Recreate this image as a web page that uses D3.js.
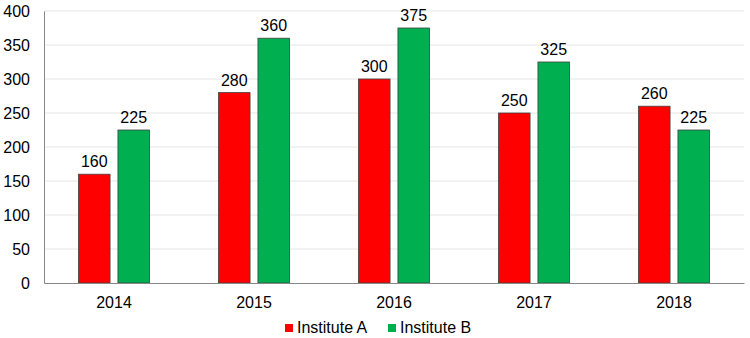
<!DOCTYPE html>
<html><head><meta charset="utf-8">
<script src="https://cdn.jsdelivr.net/npm/d3@7"></script>
<style>body{margin:0;background:#fff}svg{display:block;font-family:"Liberation Sans",Arial,sans-serif}</style>
</head><body><svg id="c" width="750" height="338"></svg>
<script>
const categories = ["2014","2015","2016","2017","2018"];
const seriesNames = ["Institute A","Institute B"];
const instituteA = [160,280,300,250,260];
const instituteB = [225,360,375,325,225];
const yTicks = [0,50,100,150,200,250,300,350,400];
const colors = ["#FF0000","#00B050"];

const svg = d3.select("#c");
const m = {l:44, r:6, t:11, b:55};
const W = 750, H = 338;
const FS = 16;
const x = d3.scaleBand().domain(categories).range([m.l, W - m.r]);
const y = d3.scaleLinear().domain([0,400]).range([H - m.b, m.t]);
const bw = x.bandwidth();
const x1 = d3.scaleBand().domain(seriesNames).range([bw/2 - 35.5, bw/2 + 35.5]).paddingInner(0.2);

svg.append("g").selectAll("line").data(yTicks.filter(d=>d>0)).join("line")
  .attr("x1", m.l).attr("x2", W - m.r).attr("y1", d=>y(d)).attr("y2", d=>y(d))
  .attr("stroke","#e6e6e6").attr("stroke-width",1);

const data = categories.map((c,i)=>({c, vals:[instituteA[i], instituteB[i]]}));
const g = svg.append("g").selectAll("g").data(data).join("g").attr("transform", d=>`translate(${x(d.c)},0)`);
g.selectAll("rect").data(d=>d.vals.map((v,j)=>({v,j}))).join("rect")
  .attr("x", d=>x1(seriesNames[d.j])).attr("width", x1.bandwidth())
  .attr("y", d=>y(d.v)).attr("height", d=>y(0)-y(d.v))
  .attr("fill", d=>colors[d.j]).attr("stroke","#404040").attr("stroke-width",0.8);
g.selectAll("text").data(d=>d.vals.map((v,j)=>({v,j}))).join("text")
  .attr("x", d=>x1(seriesNames[d.j]) + x1.bandwidth()/2).attr("y", d=>y(d.v)-7)
  .attr("text-anchor","middle").attr("font-size",FS).attr("fill","#000").text(d=>d.v);

// axes
const yAxis = svg.append("g").attr("transform",`translate(${m.l},0)`)
  .call(d3.axisLeft(y).tickValues(yTicks).tickSize(0).tickPadding(14));
yAxis.select(".domain").attr("stroke","#888");
yAxis.selectAll("text").attr("font-size",FS).attr("fill","#000").attr("font-family","Liberation Sans, Arial, sans-serif");
const xAxis = svg.append("g").attr("transform",`translate(0,${y(0)})`)
  .call(d3.axisBottom(x).tickSize(0).tickPadding(14));
xAxis.select(".domain").attr("stroke","#888");
xAxis.selectAll("text").attr("font-size",FS).attr("fill","#000").attr("font-family","Liberation Sans, Arial, sans-serif");

// legend
const legX = [285, 388];
const leg = svg.append("g").selectAll("g").data(seriesNames).join("g")
  .attr("transform",(d,i)=>`translate(${legX[i]},324)`);
leg.append("rect").attr("width",8).attr("height",8).attr("fill",(d,i)=>colors[i]);
leg.append("text").attr("x",12).attr("y",9.3).attr("font-size",FS).attr("fill","#000").text(d=>d);
</script></body></html>
